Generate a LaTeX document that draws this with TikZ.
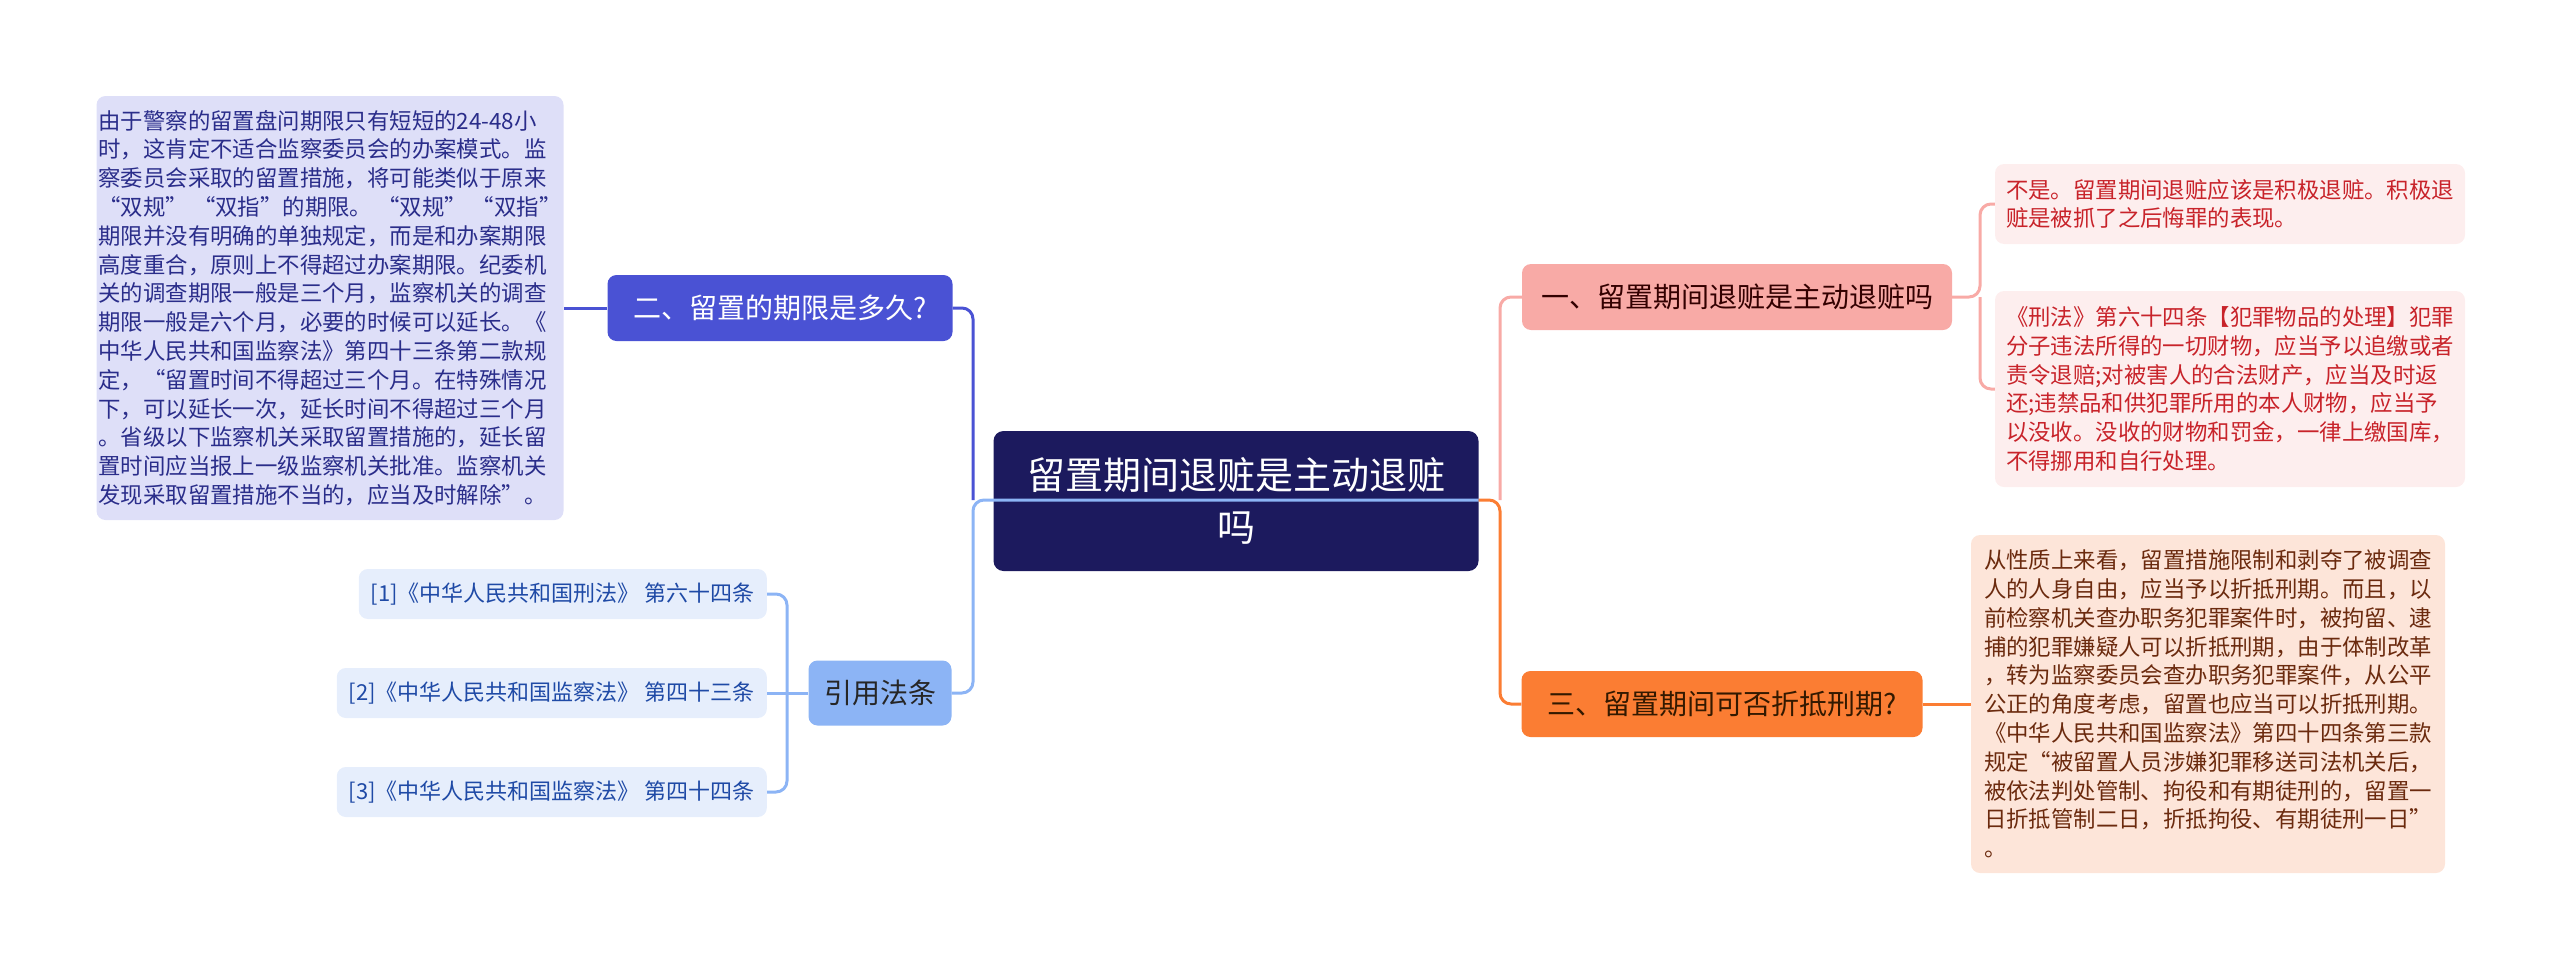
\documentclass[tikz,border=0pt]{standalone}
\usepackage{fontspec}
\setmainfont{Noto Sans CJK SC}
\usepackage{xcolor}
\usetikzlibrary{positioning}

\definecolor{rootfill}{HTML}{1C1A5E}
\definecolor{bluefill}{HTML}{4A52D4}
\definecolor{lavfill}{HTML}{DEDFF8}
\definecolor{lavtext}{HTML}{2A2D8A}
\definecolor{skyfill}{HTML}{8CB4F5}
\definecolor{reffill}{HTML}{E6EEFC}
\definecolor{reftext}{HTML}{1F4AA6}
\definecolor{pinkfill}{HTML}{F8AAA6}
\definecolor{pinkleaf}{HTML}{FDEEEE}
\definecolor{redtext}{HTML}{C8232A}
\definecolor{orangefill}{HTML}{FB7D33}
\definecolor{peachleaf}{HTML}{FDE5D9}
\definecolor{browntext}{HTML}{6B2A0E}

\tikzset{
  rootbox/.style={rounded corners=10pt,fill=rootfill,text=white,align=center,
    font=\fontsize{38}{52}\selectfont,minimum width=485pt,minimum height=140pt},
  topicbox/.style={rounded corners=9pt,align=center,inner xsep=0pt,
    font=\fontsize{28}{34}\selectfont,minimum height=66pt},
  leafbox/.style={rounded corners=9pt,align=left,inner sep=0pt,
    font=\fontsize{22.4}{28.8}\selectfont},
  refbox/.style={rounded corners=9pt,fill=reffill,text=reftext,anchor=east,
    inner xsep=12pt,minimum height=50pt,font=\fontsize{22}{26}\selectfont},
  linkline/.style={line width=3pt,rounded corners=11pt},
}

\begin{document}
\begin{tikzpicture}[x=1pt,y=-1pt]
  \useasboundingbox (0,0) rectangle (2560,970);

  % centre
  \node[rootbox] (root) at (1236,501) {留置期间退赃是主动退赃\\吗};

  % left side
  \node[topicbox,fill=bluefill,text=white,minimum width=345pt] (q2) at (780,308) {二、留置的期限是多久?};
  \node[leafbox,fill=lavfill,text=lavtext,minimum width=467pt,minimum height=424pt] (lim) at (330,308)
    {由于警察的留置盘问期限只有短短的24-48小\\
     时，这肯定不适合监察委员会的办案模式。监\\
     察委员会采取的留置措施，将可能类似于原来\\
     “双规” “双指”的期限。 “双规” “双指”\\
     期限并没有明确的单独规定，而是和办案期限\\
     高度重合，原则上不得超过办案期限。纪委机\\
     关的调查期限一般是三个月，监察机关的调查\\
     期限一般是六个月，必要的时候可以延长。《\\
     中华人民共和国监察法》第四十三条第二款规\\
     定，“留置时间不得超过三个月。在特殊情况\\
     下，可以延长一次，延长时间不得超过三个月\\
     。省级以下监察机关采取留置措施的，延长留\\
     置时间应当报上一级监察机关批准。监察机关\\
     发现采取留置措施不当的，应当及时解除”。};
  \node[topicbox,fill=skyfill,text=black!85,minimum width=143pt,minimum height=65pt] (cite) at (880,693) {引用法条};
  \node[refbox] (ref1) at (767,594) {[1]《中华人民共和国刑法》 第六十四条};
  \node[refbox] (ref2) at (767,693) {[2]《中华人民共和国监察法》 第四十三条};
  \node[refbox] (ref3) at (767,792) {[3]《中华人民共和国监察法》 第四十四条};

  % right side
  \node[topicbox,fill=pinkfill,text=black!80!red,minimum width=430pt] (q1) at (1737,297) {一、留置期间退赃是主动退赃吗};
  \node[leafbox,fill=pinkleaf,text=redtext,minimum width=470pt,minimum height=80pt] (ans1) at (2230,204)
    {不是。留置期间退赃应该是积极退赃。积极退\\
     赃是被抓了之后悔罪的表现。};
  \node[leafbox,fill=pinkleaf,text=redtext,minimum width=470pt,minimum height=196pt] (law1) at (2230,389)
    {《刑法》第六十四条【犯罪物品的处理】犯罪\\
     分子违法所得的一切财物，应当予以追缴或者\\
     责令退赔;对被害人的合法财产，应当及时返\\
     还;违禁品和供犯罪所用的本人财物，应当予\\
     以没收。没收的财物和罚金，一律上缴国库，\\
     不得挪用和自行处理。};
  \node[topicbox,fill=orangefill,text=black!80!orange,minimum width=401pt] (q3) at (1722,704) {三、留置期间可否折抵刑期?};
  \node[leafbox,fill=peachleaf,text=browntext,minimum width=474pt,minimum height=338pt] (ans3) at (2208,704)
    {从性质上来看，留置措施限制和剥夺了被调查\\
     人的人身自由，应当予以折抵刑期。而且，以\\
     前检察机关查办职务犯罪案件时，被拘留、逮\\
     捕的犯罪嫌疑人可以折抵刑期，由于体制改革\\
     ，转为监察委员会查办职务犯罪案件，从公平\\
     公正的角度考虑，留置也应当可以折抵刑期。\\
     《中华人民共和国监察法》第四十四条第三款\\
     规定“被留置人员涉嫌犯罪移送司法机关后，\\
     被依法判处管制、拘役和有期徒刑的，留置一\\
     日折抵管制二日，折抵拘役、有期徒刑一日”\\
     。};

  % junctions
  \coordinate (lj) at (973,500);
  \coordinate (rj) at (1500,500);
  \coordinate (j1) at (1980,297);
  \coordinate (cj) at (787,693);

  % connectors
  \draw[linkline,bluefill] (lj) |- (q2.east);
  \draw[linkline,bluefill] (q2.west) -- (lim.east);
  \draw[linkline,skyfill] (root.east |- lj) -- (lj) |- (cite.east);
  \draw[linkline,skyfill] (cite.west) -- (cj);
  \draw[linkline,skyfill] (cj) |- (ref1.east);
  \draw[linkline,skyfill] (cj) |- (ref3.east);
  \draw[linkline,skyfill] (cj) -- (ref2.east);
  \draw[linkline,pinkfill] (rj) |- (q1.west);
  \draw[linkline,orangefill] (root.east |- rj) -- (rj) |- (q3.west);
  \draw[linkline,pinkfill] (q1.east) -- (j1) |- (ans1.west);
  \draw[linkline,pinkfill] (j1) |- (law1.west);
  \draw[linkline,orangefill] (q3.east) -- (ans3.west);
\end{tikzpicture}
\end{document}
